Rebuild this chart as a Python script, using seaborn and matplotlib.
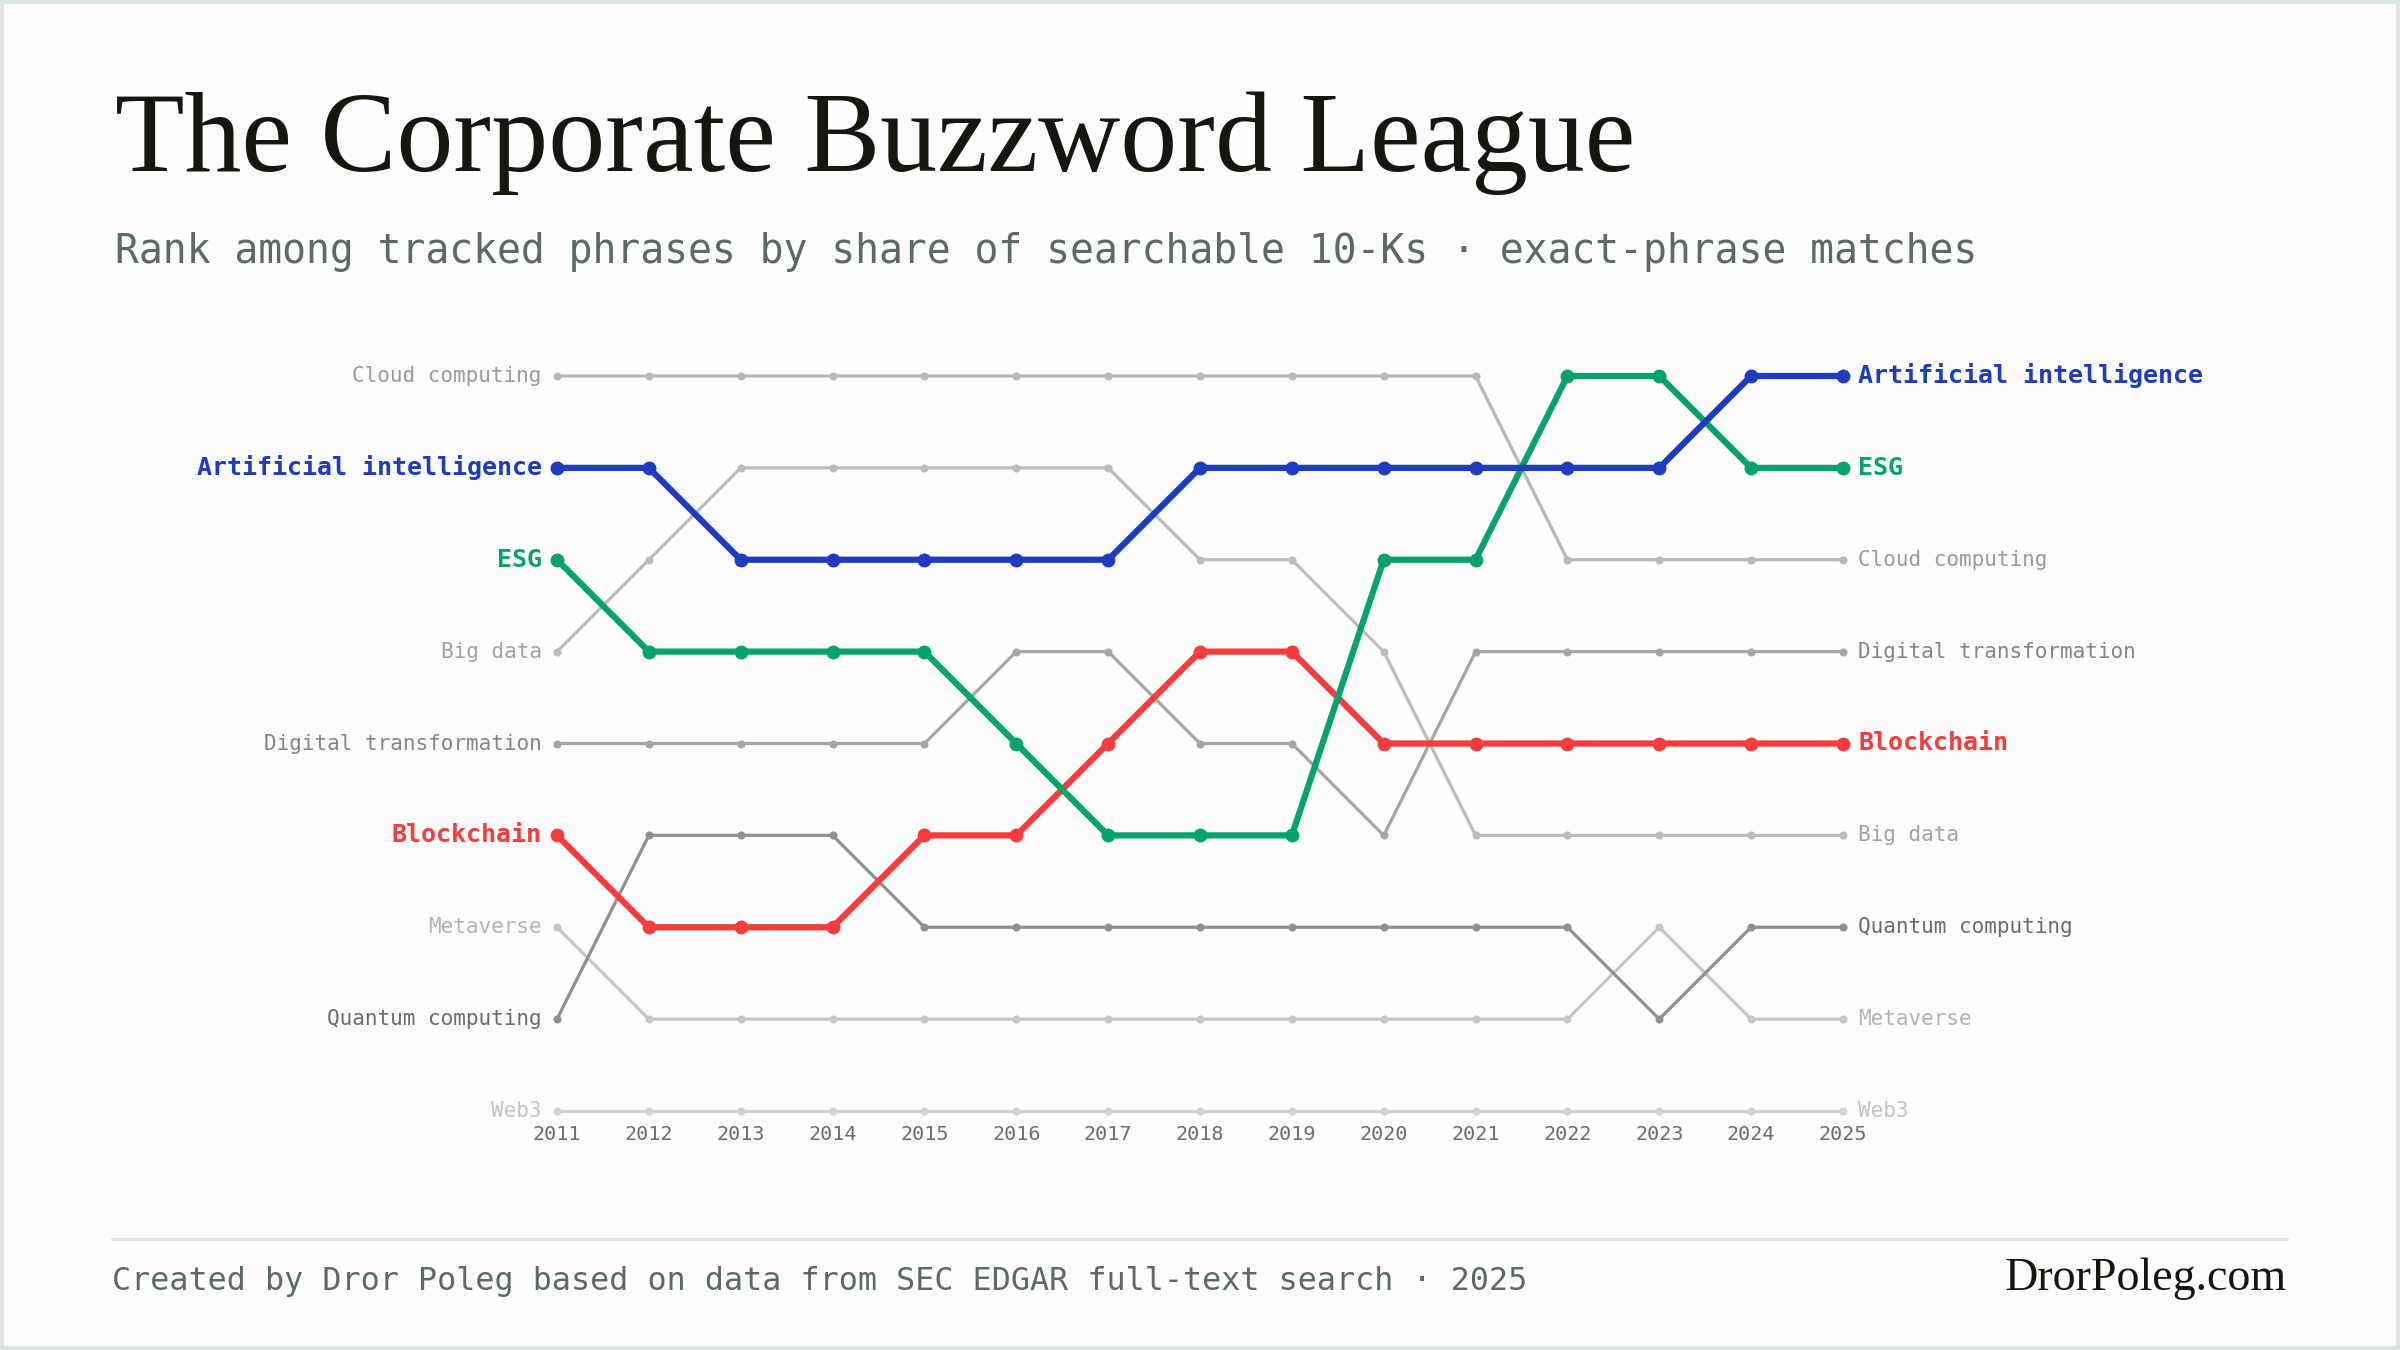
import numpy as np
import pandas as pd
import seaborn as sns
import matplotlib.pyplot as plt
from matplotlib.lines import Line2D
from matplotlib.patches import Rectangle

years = list(range(2011, 2026))

# rank per year (1 = top)
ai = [2, 2, 3, 3, 3, 3, 3, 2, 2, 2, 2, 2, 2, 1, 1]
esg = [3, 4, 4, 4, 4, 5, 6, 6, 6, 3, 3, 1, 1, 2, 2]
blockchain = [6, 7, 7, 7, 6, 6, 5, 4, 4, 5, 5, 5, 5, 5, 5]
cloud = [1, 1, 1, 1, 1, 1, 1, 1, 1, 1, 1, 3, 3, 3, 3]
big_data = [4, 3, 2, 2, 2, 2, 2, 3, 3, 4, 6, 6, 6, 6, 6]
digital = [5, 5, 5, 5, 5, 4, 4, 5, 5, 6, 4, 4, 4, 4, 4]
quantum = [8, 6, 6, 6, 7, 7, 7, 7, 7, 7, 7, 7, 8, 7, 7]
metaverse = [7, 8, 8, 8, 8, 8, 8, 8, 8, 8, 8, 8, 7, 8, 8]
web3 = [9, 9, 9, 9, 9, 9, 9, 9, 9, 9, 9, 9, 9, 9, 9]

# name, ranks, line colour, label colour
grey_series = [
    ("Web3", web3, "#d2d2cf", "#c3c3c0"),
    ("Metaverse", metaverse, "#c6c6c3", "#b3b3b0"),
    ("Cloud computing", cloud, "#b8b8b6", "#9a9a98"),
    ("Big data", big_data, "#bcbcba", "#a2a2a0"),
    ("Digital transformation", digital, "#a6a6a4", "#858583"),
    ("Quantum computing", quantum, "#90908e", "#6c6c6a"),
]
hero_series = [
    ("Blockchain", blockchain, "#f43e3e"),
    ("ESG", esg, "#05a36b"),
    ("Artificial intelligence", ai, "#1f3bbf"),
]

bg = "#fcfcfc"
mono = "DejaVu Sans Mono"
serif = "Liberation Serif"

sns.set_theme(style="white")
plt.rcParams["font.family"] = [mono, "DejaVu Sans"]

fig = plt.figure(figsize=(24, 13.5), dpi=100, facecolor=bg)
W, H = 2400, 1350

# axes placed so 2011..2025 and rank 1..9 sit where the reference has them
x0, x1 = 557, 1843
y_top, y_bot = 376, 1111
ax = fig.add_axes([x0 / W, 1 - y_bot / H, (x1 - x0) / W, (y_bot - y_top) / H])
ax.set_facecolor(bg)

for name, ranks, lc, tc in grey_series:
    sns.lineplot(x=years, y=ranks, ax=ax, color=lc, linewidth=2.3, marker="o",
                 markersize=5.8, markeredgewidth=0, clip_on=False, zorder=2)
    for xi, yi, ha, dx in [(years[0], ranks[0], "right", -11), (years[-1], ranks[-1], "left", 11)]:
        ax.annotate(name, (xi, yi), xytext=(dx, 0), textcoords="offset points",
                    ha=ha, va="center", fontsize=15.1, color=tc, family=mono,
                    annotation_clip=False)

for name, ranks, c in hero_series:
    sns.lineplot(x=years, y=ranks, ax=ax, color=c, linewidth=4.5, marker="o",
                 markersize=10, markeredgewidth=0, clip_on=False, zorder=4)
    for xi, yi, ha, dx in [(years[0], ranks[0], "right", -11), (years[-1], ranks[-1], "left", 11)]:
        ax.annotate(name, (xi, yi), xytext=(dx, 0), textcoords="offset points",
                    ha=ha, va="center", fontsize=18, color=c, family=mono,
                    fontweight="bold", annotation_clip=False)

ax.set_xlim(2011, 2025)
ax.set_ylim(9, 1)
ax.set_xticks(years)
ax.set_xticklabels([str(y) for y in years], fontsize=14.5, color="#66706d", family=mono)
ax.set_yticks([])
ax.tick_params(axis="x", length=0, pad=10)
for s in ax.spines.values():
    s.set_visible(False)
ax.set_xlabel("")
ax.set_ylabel("")

# title, fitted to the reference width
title = fig.text(115 / W, 1 - 171 / H, "The Corporate Buzzword League", family=serif,
                 fontsize=80, color="#161611", ha="left", va="baseline")
r = fig.canvas.get_renderer()
tw = title.get_window_extent(r).width
title.set_fontsize(80 * 1520 / tw)

fig.text(115 / W, 1 - 263 / H,
         "Rank among tracked phrases by share of searchable 10-Ks \u00b7 exact-phrase matches",
         family=mono, fontsize=28.6, color="#5e6966", ha="left", va="baseline")

# footer
fig.add_artist(Line2D([112 / W, 2287 / W], [1 - 1239 / H, 1 - 1239 / H],
                      transform=fig.transFigure, color="#dfe4e2", linewidth=2.2))
fig.text(112 / W, 1 - 1290 / H,
         "Created by Dror Poleg based on data from SEC EDGAR full-text search \u00b7 2025",
         family=mono, fontsize=22.9, color="#5e6966", ha="left", va="baseline")
brand = fig.text(2287 / W, 1 - 1290 / H, "DrorPoleg.com", family=serif, fontsize=36,
                 color="#161611", ha="right", va="baseline")
bw = brand.get_window_extent(r).width
brand.set_fontsize(36 * 282 / bw)

# frame
fig.add_artist(Rectangle((0, 0), 1, 1, transform=fig.transFigure, fill=False,
                         edgecolor="#dde3e0", linewidth=5.5))

fig.savefig("out.png", dpi=100, facecolor=bg)
